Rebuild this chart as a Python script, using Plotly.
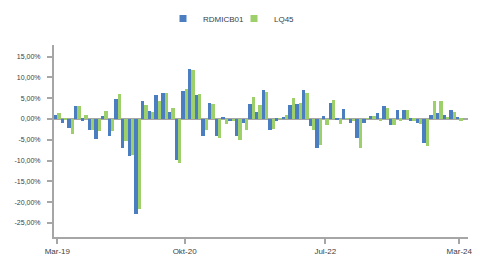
import plotly.graph_objects as go

month_abbr = ["Jan", "Feb", "Mar", "Apr", "Mei", "Jun", "Jul", "Agu", "Sep", "Okt", "Nov", "Des"]
months = []
y, m = 2019, 2
for _ in range(61):
    months.append(f"{month_abbr[m]}-{str(y)[2:]}")
    m += 1
    if m == 12:
        m = 0
        y += 1

rdmicb01 = [1.0, -0.9, -2.1, 3.1, -0.4, -2.6, -4.7, 0.7, -4.2, 4.8,
            -6.9, -8.8, -22.8, 4.3, 1.9, 5.8, 6.25, 1.7, -9.9, 6.7,
            12.0, 5.8, -4.1, 3.85, -4.1, 0.5, -0.6, -4.1, -0.9, 3.6,
            1.7, 7.0, -2.6, -0.4, 0.5, 3.4, 3.6, 7.0, -1.8, -7.1,
            0.7, 3.85, -0.2, 2.4, -0.9, -4.5, -0.9, 0.7, 1.4, 3.1,
            -1.4, 2.2, 2.2, -0.4, -0.9, -5.9, 1.0, 1.4, 1.0, 2.2, 0.5]
lq45 = [1.4, -0.2, -3.5, 3.1, 1.0, -2.6, -2.8, 1.9, -2.8, 6.0,
        -5.2, -8.65, -21.6, 3.4, 1.7, 4.3, 6.25, 2.6, -10.5, 7.2,
        11.8, 6.0, -2.6, 3.6, -4.5, -1.1, -0.6, -5.0, -2.6, 5.3,
        3.4, 6.5, -2.3, 0.2, 1.0, 5.0, 3.85, 6.25, -2.6, -6.2,
        -1.4, 4.6, -1.1, 0.2, -0.6, -7.1, 0.1, 0.7, -0.6, 2.6,
        -1.4, -0.4, 2.2, -0.4, -1.1, -6.4, 4.3, 4.3, 0.5, 1.7, -0.4]

x_ticks = ["Mar-19", "Okt-20", "Jul-22", "Mar-24"]
y_ticks = [15, 10, 5, 0, -5, -10, -15, -20, -25]
y_ticktext = ["15,00%", "10,00%", "5,00%", "0,00%", "-5,00%", "-10,00%", "-15,00%", "-20,00%", "-25,00%"]

BLUE = "#4a7ec0"
GREEN = "#9dcf6a"
AXIS = "#a6a6a6"
TXT = "#404040"

# page body has an 8px margin, so the figure is sized to fill the rest of the window
W, H = 472, 251

fig = go.Figure()
fig.add_trace(go.Bar(x=months, y=rdmicb01, name="RDMICB01", marker_color=BLUE,
                     marker_line_width=0, showlegend=False))
fig.add_trace(go.Bar(x=months, y=lq45, name="LQ45", marker_color=GREEN,
                     marker_line_width=0, showlegend=False))
# legend entries with small square symbols
fig.add_trace(go.Scatter(x=[None], y=[None], mode="markers", name="RDMICB01", legend="legend",
                         marker=dict(symbol="square", size=7, color=BLUE)))
fig.add_trace(go.Scatter(x=[None], y=[None], mode="markers", name="LQ45", legend="legend2",
                         marker=dict(symbol="square", size=7, color=GREEN)))

leg_common = dict(yref="container", y=1 - 10.5 / H, yanchor="middle", xref="container",
                  xanchor="left", font=dict(size=8, color=TXT), bgcolor="rgba(0,0,0,0)",
                  borderwidth=0)

fig.update_layout(
    width=W, height=H,
    margin=dict(l=46, r=12, t=37, b=22, autoexpand=False),
    paper_bgcolor="white", plot_bgcolor="white",
    barmode="group", bargap=0.0, bargroupgap=0.0,
    font=dict(family="Liberation Sans, Arial, sans-serif", size=8, color=TXT),
    legend=dict(x=155 / W, **leg_common),
    legend2=dict(x=226 / W, **leg_common),
    xaxis=dict(type="category", range=[-0.5, 61.3], tickmode="array", tickvals=x_ticks,
               ticktext=x_ticks, showline=True, linecolor=AXIS, linewidth=2,
               ticks="outside", ticklen=5, tickcolor=AXIS, tickwidth=1.5, automargin=False,
               showgrid=False, tickfont=dict(size=8, color=TXT), fixedrange=True),
    yaxis=dict(range=[-28.4, 17.8], tickmode="array", tickvals=y_ticks, ticktext=y_ticktext,
               showline=True, linecolor=AXIS, linewidth=2, ticks="outside", ticklen=5,
               tickcolor=AXIS, tickwidth=1.5, showgrid=False, zeroline=True, automargin=False,
               zerolinecolor=AXIS, zerolinewidth=2, tickfont=dict(size=7, color=TXT),
               ticklabelstandoff=5),
)

fig.write_html("out.html")
